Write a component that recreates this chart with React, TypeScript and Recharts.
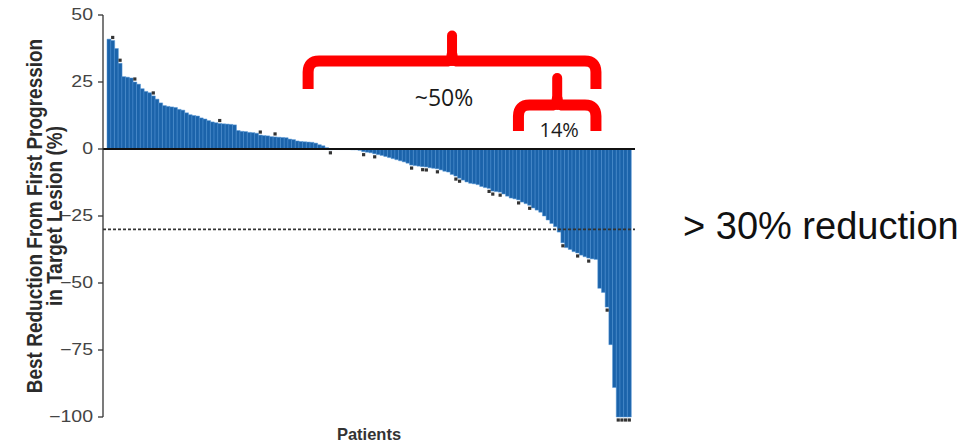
import React from 'react';
import { BarChart, Bar, XAxis, YAxis, ReferenceLine, LabelList } from 'recharts';

// Best reduction from first progression in target lesion (%), one value per patient, sorted
const reductionValues: number[] = [
  41, 40.5, 37.5, 32, 27, 26.8, 26.5, 25, 24.2, 22.5,
  21.5, 21, 19.8, 18.6, 17.2, 16.2, 15.9, 15.7, 15.5, 14.8,
  14.5, 13.5, 12.8, 12.5, 12.3, 11.6, 11.2, 10.6, 10.1, 9.8,
  9.5, 9.4, 9.3, 9.2, 9.0, 6.9, 6.6, 6.5, 6.2, 6.1,
  5.9, 5.2, 5.0, 4.9, 4.6, 4.5, 4.4, 4.3, 4.2, 3.7,
  3.5, 3.0, 2.8, 2.7, 2.6, 2.5, 2.2, 1.6, 1.2, 0.5,
  -0.3, -0.2, -0.2, -0.2, -0.2, -0.2, -0.3, -0.3, -0.5, -1.0,
  -1.2, -1.4, -1.8, -2.1, -2.4, -2.8, -3.2, -3.6, -4.0, -4.4,
  -4.8, -5.3, -6.0, -6.2, -6.4, -6.6, -6.7, -7.0, -7.2, -7.4,
  -7.8, -8.3, -8.6, -9.5, -10.1, -10.9, -11.6, -12.3, -12.8, -13.0,
  -13.3, -14.0, -14.4, -14.7, -15.7, -15.9, -16.1, -16.8, -17.6, -18.3,
  -18.6, -19.0, -19.8, -20.4, -21.0, -22.0, -22.8, -23.6, -25.0, -26.5,
  -27.8, -29.0, -31.0, -35.0, -36.8, -37.5, -38.3, -38.8, -39.6, -40.2,
  -40.7, -41.0, -41.2, -52.0, -53.5, -59.0, -73.0, -89.0, -100, -100,
  -100, -100,
];

// patients (1-based) that carry a marker
const markedPatients: number[] = [
  2, 4, 8, 13, 31, 42, 46, 61, 70, 73, 83, 86, 87, 90, 95, 96,
  104, 105, 107, 112, 115, 124, 128, 131, 136, 139, 140, 141, 142,
];

const yTicks: number[] = [-100, -75, -50, -25, 0, 25, 50];
const responseThreshold = -30;

const braceLabels: string[] = ['~50%', '14%'];
const braceStartPatient: number[] = [55, 112];
const braceEndPatient: number[] = [133, 133];
const braceLevel: number[] = [32.8, 16.4];

const data = reductionValues.map((v, i) => ({
  patient: i + 1,
  value: v,
  mark: markedPatients.includes(i + 1) ? (v >= 0 ? 1 : -1) : 0,
}));

const braceStyle = [
  { leg: 28, peak: 25.5, labelDx: -8, labelDy: 45, fontSize: 23 },
  { leg: 26, peak: 27, labelDx: 2, labelDy: 32, fontSize: 20 },
];

const makeBrace = (k: number) => (props: any) => {
  const { x1, x2, y1 } = props;
  const s = braceStyle[k];
  const y = y1;
  const r = 11;
  const r2 = 6;
  const xm = (x1 + x2) / 2;
  const d = `M${x1},${y + s.leg} L${x1},${y + r} Q${x1},${y} ${x1 + r},${y} L${xm - r2},${y} Q${xm},${y} ${xm},${y - r2} Q${xm},${y} ${xm + r2},${y} L${x2 - r},${y} Q${x2},${y} ${x2},${y + r} L${x2},${y + s.leg}`;
  return (
    <g>
      <path d={d} fill="none" stroke="#ff0000" strokeWidth={11} strokeLinejoin="round" />
      <line x1={xm} y1={y} x2={xm} y2={y - s.peak} stroke="#ff0000" strokeWidth={10} strokeLinecap="round" />
      <text
        x={xm + s.labelDx}
        y={y + s.labelDy}
        textAnchor="middle"
        fontSize={s.fontSize}
        fontFamily="'Open Sans', 'Noto Sans', sans-serif"
        fill="#1a1a1a"
      >
        {braceLabels[k]}
      </text>
    </g>
  );
};

const Marker = (props: any) => {
  const vb = props.viewBox && props.viewBox.width !== undefined ? props.viewBox : props;
  const side = Number(props.value);
  if (!side) return null;
  const { x, y, width, height } = vb;
  const top = Math.min(y, y + height);
  const bottom = Math.max(y, y + height);
  const cy = side > 0 ? top - 3 : bottom + 3;
  const cx = x + width / 2;
  return <rect x={cx - 1.6} y={cy - 1.6} width={3.2} height={3.2} fill="#333" />;
};

const YTick = (props: any) => {
  const { x, y, payload } = props;
  const v = payload.value;
  const label = v < 0 ? `\u2212${Math.abs(v)}` : `${v}`;
  return (
    <text
      transform={`translate(${x},${y}) scale(1.22,1)`}
      textAnchor="end"
      dominantBaseline="central"
      fontSize={16}
      fontFamily="'Liberation Sans', Arial, sans-serif"
      fill="#444"
    >
      {label}
    </text>
  );
};

const YTitle = (props: any) => {
  const vb = props.viewBox || {};
  const cy = (vb.y ?? 15) + (vb.height ?? 402) / 2;
  const common = {
    textAnchor: 'middle' as const,
    fontSize: 19,
    fontWeight: 700,
    fontFamily: "'Liberation Sans', Arial, sans-serif",
    fill: '#2b2b2b',
  };
  return (
    <g>
      <text {...common} transform={`translate(42,${cy}) rotate(-90) scale(1,1.12)`}>
        Best Reduction From First Progression
      </text>
      <text {...common} transform={`translate(62,${cy}) rotate(-90) scale(1,1.12)`}>
        in Target Lesion (%)
      </text>
    </g>
  );
};

const XTitle = (props: any) => {
  const vb = props.viewBox || {};
  const cx = (vb.x ?? 103) + (vb.width ?? 532) / 2;
  return (
    <text
      x={cx}
      y={440}
      textAnchor="middle"
      fontSize={16.5}
      fontWeight={700}
      fontFamily="'Liberation Sans', Arial, sans-serif"
      fill="#333"
    >
      Patients
    </text>
  );
};

export default function App() {
  return (
    <div style={{ position: 'absolute', left: 0, top: 0, background: '#fff' }}>
      <BarChart
        width={976}
        height={443}
        data={data}
        margin={{ top: 15, right: 341, bottom: 0, left: 0 }}
        barCategoryGap={0}
        barGap={0}
      >
        <XAxis
          dataKey="patient"
          type="category"
          height={26}
          tick={false}
          tickLine={false}
          axisLine={false}
          padding={{ left: 4, right: 4 }}
          label={<XTitle />}
        />
        <YAxis
          type="number"
          domain={[-100, 50]}
          ticks={yTicks}
          width={103}
          tickSize={5}
          tickMargin={5}
          tick={<YTick />}
          axisLine={{ stroke: '#333', strokeWidth: 1.3 }}
          tickLine={{ stroke: '#333', strokeWidth: 1.3 }}
          label={<YTitle />}
        />
        <Bar
          dataKey="value"
          fill="#1b63aa"
          stroke="#5b9bd8"
          strokeWidth={0.5}
          isAnimationActive={false}
        >
          <LabelList dataKey="mark" content={<Marker />} />
        </Bar>
        <ReferenceLine y={0} stroke="#111" strokeWidth={2} />
        <ReferenceLine
          y={responseThreshold}
          stroke="#333"
          strokeWidth={1.6}
          strokeDasharray="3 2"
          label={{
            value: '> 30% reduction',
            position: 'right',
            offset: 48,
            dy: -4,
            fontSize: 38,
            fontFamily: "'Liberation Sans', Arial, sans-serif",
            fill: '#111',
          }}
        />
        {braceLabels.map((lbl, k) => (
          <ReferenceLine
            key={lbl}
            segment={[
              { x: braceStartPatient[k], y: braceLevel[k] },
              { x: braceEndPatient[k], y: braceLevel[k] },
            ]}
            ifOverflow="visible"
            shape={makeBrace(k)}
          />
        ))}
      </BarChart>
    </div>
  );
}
